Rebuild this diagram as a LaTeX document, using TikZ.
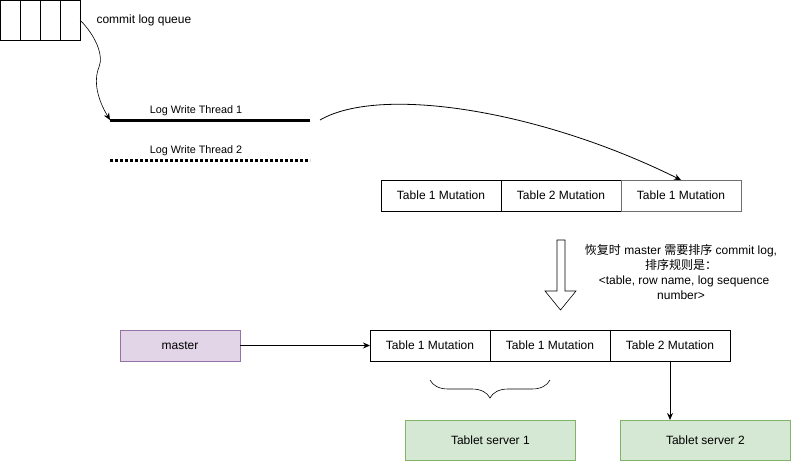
\documentclass[tikz,border=0pt]{standalone}
\usepackage{fontspec}
\setmainfont{Liberation Sans}
\newfontfamily\cjkfont{Noto Sans CJK SC}
\usetikzlibrary{positioning}
\usetikzlibrary{arrows.meta}
\usetikzlibrary{decorations.pathreplacing}
\definecolor{masterFill}{RGB}{225,213,231}
\definecolor{masterLine}{RGB}{150,115,166}
\definecolor{serverFill}{RGB}{213,232,212}
\definecolor{serverLine}{RGB}{130,179,102}
\definecolor{fadedLine}{RGB}{110,110,110}
\tikzstyle{canvas} = [x = 1pt, y = -1pt, every node/.style={font=\fontsize{12}{15}\selectfont}]
\tikzstyle{queueCell} = [draw, minimum width = 20pt, minimum height = 40pt, inner sep = 0pt, outer sep = 0pt, line width = .8pt]
\tikzstyle{mutationBox} = [draw, minimum width = 120pt, minimum height = 31pt, inner sep = 0pt, outer sep = 0pt, line width = .8pt]
\tikzstyle{masterBox} = [mutationBox, draw=masterLine, fill=masterFill]
\tikzstyle{serverBox} = [draw=serverLine, fill=serverFill, minimum width = 170pt, minimum height = 40pt, inner sep = 0pt, line width = .8pt]
\tikzstyle{flowArrow} = [-{Stealth[length=7pt, width=6pt]}, line width = .8pt]
\tikzstyle{threadText} = [font=\fontsize{10.8}{13}\selectfont, inner sep = 1pt]
\newcommand{\mutationRow}[4]{
  \node [mutationBox, anchor = north west] (#1A) at #2 {Table #3 Mutation};
  \node [mutationBox, right = 0pt of #1A] (#1B) {Table #4 Mutation};
}

\begin{document}
\begin{tikzpicture}[canvas]
        \useasboundingbox (0,0) rectangle (791,461);

        % commit log queue
        \foreach \cell in {0,...,3} {
          \node [queueCell, anchor = north west] (q\cell) at (\cell * 20, 0) {};
        }
        \node [anchor = west] (queueLabel) at (93, 20) {commit log queue};

        % write threads
        \coordinate (t1s) at (110, 120);
        \coordinate (t1e) at (310, 120);
        \coordinate (t2s) at (110, 160);
        \coordinate (t2e) at (310, 160);
        \draw [line width = 3pt] (t1s) -- (t1e);
        \draw [line width = 3pt, dash pattern = on 2.5pt off 2.5pt] (t2s) -- (t2e);
        \node [threadText] (t1Label) at (196, 111) {Log Write Thread 1};
        \node [threadText] (t2Label) at (196, 151) {Log Write Thread 2};
        \draw [flowArrow, line width = .6pt] (q3.east) .. controls (95, 35) and (104, 55) .. (99, 67)
          .. controls (93, 82) and (98, 100) .. (t1s);

        % commit log on disk
        \mutationRow{top}{(381, 180)}{1}{2}
        \node [mutationBox, draw = fadedLine, right = 0pt of topB] (topC) {Table 1 Mutation};
        \coordinate (t1Out) at (320, 120);
        \draw [flowArrow] (t1Out) .. controls (380, 85) and (540, 110) .. (topC.north);

        % sort step
        \draw [line width = .6pt] (557, 240) -- (565, 240) -- (565, 291) -- (576, 291)
          -- (560.5, 310) -- (545, 291) -- (557, 291) -- cycle;
        \node [align = center, inner sep = 0pt] (sortNote) at (681, 271.5)
          {{\cjkfont 恢复时} master {\cjkfont 需要排序} commit log,\\
           {\cjkfont 排序规则是：}\\
           \,\,\,<table, row name, log sequence\\
           number>};

        % recovery
        \node [masterBox, anchor = north west] (master) at (120, 330) {master};
        \mutationRow{low}{(370, 330)}{1}{1}
        \node [mutationBox, right = 0pt of lowB] (lowC) {Table 2 Mutation};
        \draw [flowArrow] (master) -- (lowA);
        \draw [decorate, decoration = {brace, mirror, amplitude = 18pt}, line width = .6pt]
          (430, 380) -- (550, 380);

        \node [serverBox, anchor = north west] (ts1) at (405, 420) {Tablet server 1};
        \node [serverBox, anchor = north west] (ts2) at (620, 420) {Tablet server 2};
        \draw [flowArrow] (lowC) -- (ts2.north -| lowC);
      \end{tikzpicture}
\end{document}
